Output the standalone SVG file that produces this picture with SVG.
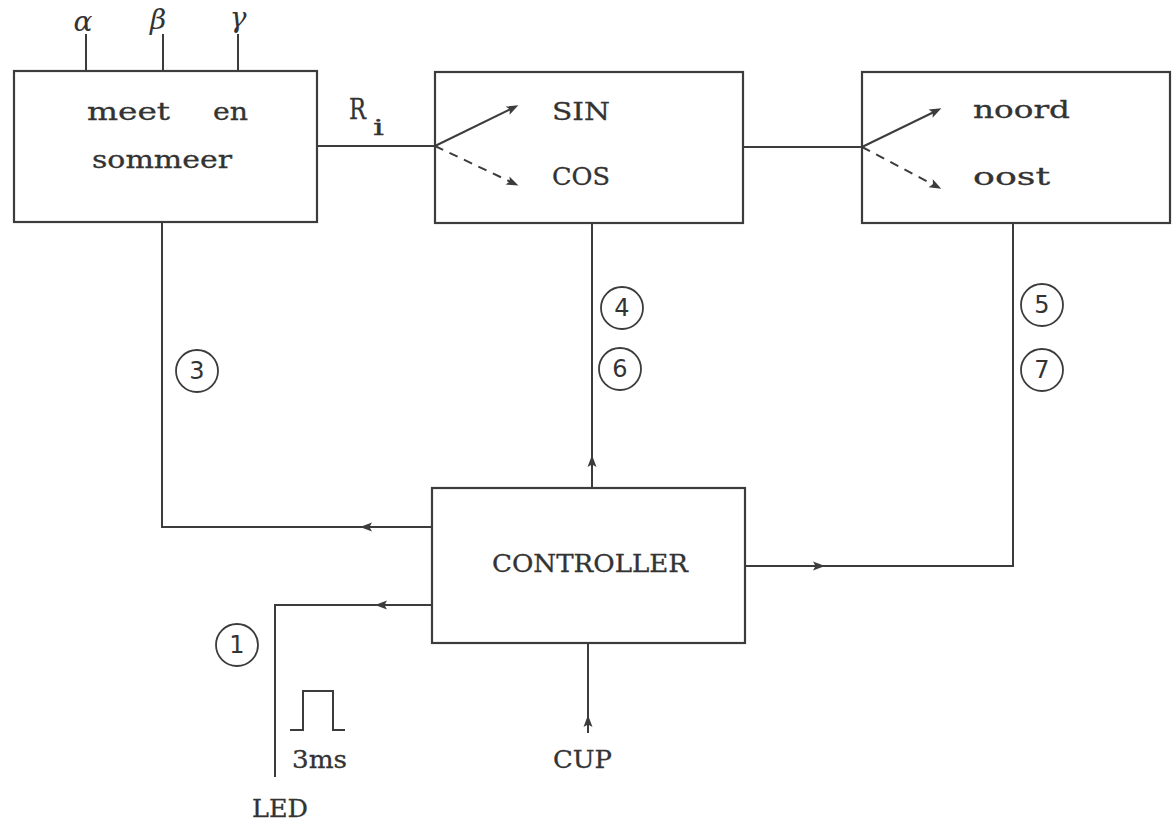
<svg xmlns="http://www.w3.org/2000/svg" xmlns:xlink="http://www.w3.org/1999/xlink" width="1174" height="822" viewBox="0 0 1174 822">
<style>
.box{fill:none;stroke:#3c3c3c;stroke-width:2.2}
.ln{fill:none;stroke:#3c3c3c;stroke-width:2}
.dash{fill:none;stroke:#3c3c3c;stroke-width:2;stroke-dasharray:9 7}
.t{font-family:"DejaVu Serif","Liberation Serif",serif;font-size:24px;fill:#333;stroke:#333;stroke-width:0.3}
.g{font-family:"DejaVu Serif","Liberation Serif",serif;font-style:italic;font-size:28px;fill:#333;text-anchor:middle}
.c{fill:none;stroke:#3c3c3c;stroke-width:1.8}
.n{font-family:"DejaVu Sans","Liberation Sans",sans-serif;font-size:24px;fill:#333;text-anchor:middle}
.ah{fill:#3c3c3c}
</style>
<defs>
<path id="ah" d="M6,0 L-6,-4.5 L-3.5,0 L-6,4.5 Z"/>
</defs>
<rect width="1174" height="822" fill="#ffffff"/>

<g id="meet-en-sommeer">
<rect class="box" x="14" y="71" width="303" height="151"/>
<text class="t"><tspan x="87" y="120" textLength="83" lengthAdjust="spacingAndGlyphs">meet</tspan> <tspan x="213" y="120" textLength="35" lengthAdjust="spacingAndGlyphs">en</tspan></text>
<text class="t" x="92" y="168" textLength="140" lengthAdjust="spacingAndGlyphs">sommeer</text>
</g>

<g id="inputs">
<line class="ln" x1="86" y1="34" x2="86" y2="71"/>
<line class="ln" x1="163" y1="34" x2="163" y2="71"/>
<line class="ln" x1="238" y1="34" x2="238" y2="71"/>
<text class="g" x="83" y="31">α</text>
<text class="g" x="158" y="29">β</text>
<text class="g" x="238" y="27">γ</text>
</g>

<g id="sin-cos">
<rect class="box" x="435" y="72" width="308" height="151"/>
<text class="t" x="552" y="120" textLength="58" lengthAdjust="spacingAndGlyphs">SIN</text>
<text class="t" x="552" y="185" textLength="58" lengthAdjust="spacingAndGlyphs">COS</text>
<line class="ln" x1="435" y1="146" x2="512" y2="108.5"/>
<use href="#ah" class="ah" transform="translate(513,108) rotate(-26)"/>
<line class="dash" x1="435" y1="146" x2="511" y2="182"/>
<use href="#ah" class="ah" transform="translate(513,183) rotate(25)"/>
</g>

<g id="noord-oost">
<rect class="box" x="862" y="72" width="308" height="151"/>
<text class="t" x="973" y="118" textLength="97" lengthAdjust="spacingAndGlyphs">noord</text>
<text class="t" x="973" y="185" textLength="77" lengthAdjust="spacingAndGlyphs">oost</text>
<line class="ln" x1="862" y1="147" x2="935" y2="111.5"/>
<use href="#ah" class="ah" transform="translate(936,111) rotate(-26)"/>
<line class="dash" x1="862" y1="147" x2="934" y2="185"/>
<use href="#ah" class="ah" transform="translate(936,186) rotate(28)"/>
</g>

<g id="controller">
<rect class="box" x="432" y="488" width="313" height="155"/>
<text class="t" x="492" y="572" textLength="196" lengthAdjust="spacingAndGlyphs">CONTROLLER</text>
</g>

<g id="connectors">
<line class="ln" x1="317" y1="146" x2="435" y2="146"/>
<line class="ln" x1="743" y1="147" x2="862" y2="147"/>
<polyline class="ln" points="162,222 162,527 432,527"/>
<use href="#ah" class="ah" transform="translate(366,527) rotate(180)"/>
<line class="ln" x1="592" y1="223" x2="592" y2="488"/>
<use href="#ah" class="ah" transform="translate(592,461) rotate(-90)"/>
<polyline class="ln" points="745,566 1013,566 1013,223"/>
<use href="#ah" class="ah" transform="translate(819,566)"/>
<polyline class="ln" points="432,605 275,605 275,777"/>
<use href="#ah" class="ah" transform="translate(381,605) rotate(180)"/>
<line class="ln" x1="588" y1="643" x2="588" y2="733"/>
<use href="#ah" class="ah" transform="translate(588,721) rotate(-90)"/>
</g>

<g id="labels">
<text class="t" x="349" y="119" style="font-size:28px" textLength="17" lengthAdjust="spacingAndGlyphs">R</text>
<text class="t" x="373" y="135" style="font-size:22px" textLength="11" lengthAdjust="spacingAndGlyphs">i</text>
<circle class="c" cx="197" cy="371" r="21"/><text class="n" x="197" y="379">3</text>
<circle class="c" cx="622" cy="308" r="21"/><text class="n" x="622" y="316">4</text>
<circle class="c" cx="620" cy="369" r="21"/><text class="n" x="620" y="377">6</text>
<circle class="c" cx="1042" cy="305" r="21"/><text class="n" x="1042" y="313">5</text>
<circle class="c" cx="1042" cy="370" r="21"/><text class="n" x="1042" y="378">7</text>
<circle class="c" cx="237" cy="645" r="21"/><text class="n" x="237" y="653">1</text>
<polyline class="ln" points="290,730 303,730 303,691 333,691 333,730 345,730"/>
<text class="t" x="292" y="768" textLength="55" lengthAdjust="spacingAndGlyphs">3ms</text>
<text class="t" x="553" y="768" textLength="59" lengthAdjust="spacingAndGlyphs">CUP</text>
<text class="t" x="252" y="817" textLength="56" lengthAdjust="spacingAndGlyphs">LED</text>
</g>
</svg>
